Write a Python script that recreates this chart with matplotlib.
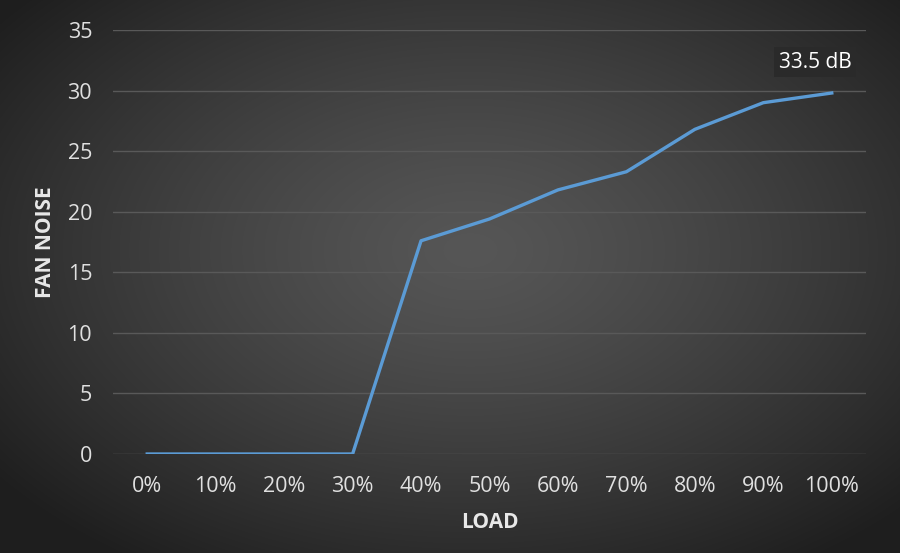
import numpy as np
import matplotlib
matplotlib.use("Agg")
import matplotlib.pyplot as plt

categories = ["0%", "10%", "20%", "30%", "40%", "50%", "60%", "70%", "80%", "90%", "100%"]
fan_noise = [0, 0, 0, 0, 17.6, 19.4, 21.8, 23.3, 26.8, 29.0, 29.8]
y_ticks = [0, 5, 10, 15, 20, 25, 30, 35]
annotation = "33.5 dB"

plt.rcParams['font.family'] = ['Open Sans', 'DejaVu Sans']

W, H = 900, 553
fig = plt.figure(figsize=(W / 100, H / 100), dpi=100)

# radial gradient background
bg = fig.add_axes([0, 0, 1, 1], zorder=-10)
yy, xx = np.mgrid[0:H, 0:W]
cx, cy = 470, 250
d = np.sqrt(((xx - cx) / 520.0) ** 2 + ((yy - cy) / 330.0) ** 2)
d = np.clip(d, 0, 1.3)
inner = np.array([0x56, 0x56, 0x56]) / 255
outer = np.array([0x1e, 0x1e, 0x1e]) / 255
t = np.clip(d / 1.15, 0, 1) ** 1.3
img = inner[None, None, :] * (1 - t[..., None]) + outer[None, None, :] * t[..., None]
bg.imshow(img, aspect='auto', extent=[0, 1, 0, 1], origin='upper')
bg.axis('off')

ax = fig.add_axes([113 / W, (H - 454) / H, (866 - 113) / W, (454 - 30) / H])
ax.patch.set_alpha(0)
x = np.arange(len(categories))
ax.plot(x, fan_noise, color='#5B9BD5', lw=2.4, solid_joinstyle='round', zorder=3)
ax.set_xlim(-0.5, len(categories) - 0.5)
ax.set_ylim(0, 35)
ax.set_yticks(y_ticks)
ax.set_xticks(x)
ax.set_xticklabels(categories)
ax.grid(axis='y', color='#595959', lw=1.0)
ax.set_axisbelow(True)
for s in ax.spines.values():
    s.set_visible(False)
ax.tick_params(length=0, colors='#e0e0e0', labelsize=15.5)
ax.tick_params(axis='x', pad=16)
ax.tick_params(axis='y', pad=15)
ax.set_xlabel("LOAD", color='#e8e8e8', fontsize=15, fontweight='bold', labelpad=11)
ax.set_ylabel("FAN NOISE", color='#e8e8e8', fontsize=15, fontweight='bold', labelpad=8)

fig.text(815 / W, (H - 62) / H, annotation, color='white', fontsize=15,
         ha='center', va='center',
         bbox=dict(boxstyle='square,pad=0.2', fc='#2a2a2a', ec='none'))

fig.savefig("out.png", dpi=100)
